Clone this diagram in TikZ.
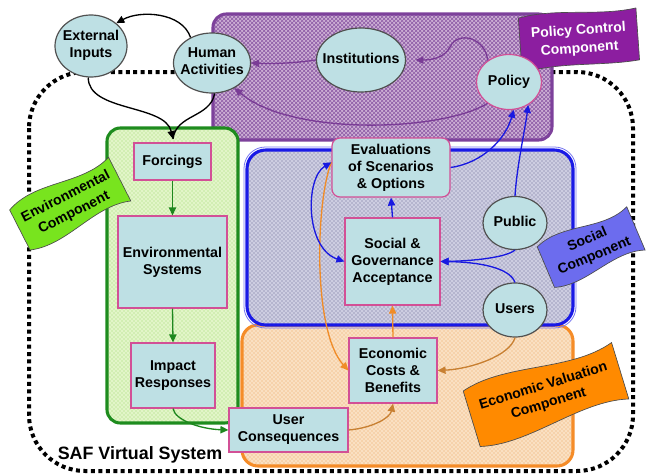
\documentclass[tikz,border=0pt]{standalone}
\usepackage{fontspec}
\setmainfont{Liberation Sans}
\usetikzlibrary{arrows.meta,shapes.geometric,patterns}

\definecolor{nodefill}{RGB}{190,224,228}
\definecolor{ellborder}{RGB}{80,80,80}
\definecolor{boxborder}{RGB}{210,80,150}
\definecolor{purpbg}{RGB}{205,175,212}
\definecolor{purpdot}{RGB}{140,90,165}
\definecolor{purpedge}{RGB}{125,65,155}
\definecolor{greenbg}{RGB}{226,245,200}
\definecolor{greendot}{RGB}{160,215,110}
\definecolor{greenedge}{RGB}{30,140,30}
\definecolor{bluebg}{RGB}{205,205,225}
\definecolor{bluedot}{RGB}{105,105,145}
\definecolor{blueedge}{RGB}{25,25,230}
\definecolor{blueouter}{RGB}{120,120,240}
\definecolor{orangebg}{RGB}{250,224,194}
\definecolor{orangedot}{RGB}{236,165,95}
\definecolor{orangeedge}{RGB}{245,140,40}
\definecolor{purparrow}{RGB}{122,60,150}
\definecolor{greenarrow}{RGB}{30,135,30}
\definecolor{bluearrow}{RGB}{25,25,225}
\definecolor{orangearrow}{RGB}{240,140,40}
\definecolor{brownarrow}{RGB}{200,128,50}
\definecolor{envflag}{RGB}{120,228,30}
\definecolor{socflag}{RGB}{108,108,238}
\definecolor{ecoflag}{RGB}{255,138,0}
\definecolor{polflag}{RGB}{140,30,160}

\newcommand\ctext[1]{\makebox[0pt]{\begin{tabular}{@{}c@{}}#1\end{tabular}}}

\tikzset{
  ell/.style={ellipse, draw=ellborder, fill=nodefill, line width=0.9pt, inner sep=0pt},
  boxnode/.style={rectangle, draw=boxborder, fill=nodefill, line width=0.9pt, inner sep=0pt, align=center},
  arr/.style={line width=1pt, -{Triangle[length=6pt,width=5.5pt]}},
  regionedge/.style={line width=2.3pt, rounded corners=10pt},
  flagshape/.style={draw=black!70, line width=0.5pt},
  flagtxt/.style={align=center, inner sep=0pt, font=\fontsize{10.5}{13.6}\selectfont\bfseries},
}

\begin{document}
\begin{tikzpicture}[x=0.75pt,y=-0.75pt, font=\fontsize{10.7}{12.8}\selectfont\bfseries]
\useasboundingbox (0,0) rectangle (646,475);

% outer virtual system boundary
\draw[line width=3pt, dash pattern=on 3pt off 2.6pt, rounded corners=42pt]
  (29,72) rectangle (633,471);

% component regions
\path[fill=purpbg, rounded corners=11pt] (213,14) rectangle (552,140);
\path[pattern=crosshatch, pattern color=purpdot, rounded corners=11pt] (213,14) rectangle (552,140);
\draw[regionedge, draw=purpedge] (213,14) rectangle (552,140);

\path[fill=greenbg, rounded corners=10pt] (107,128) rectangle (238,423);
\path[pattern=crosshatch dots, pattern color=greendot, rounded corners=10pt] (107,128) rectangle (238,423);
\draw[regionedge, draw=greenedge] (107,128) rectangle (238,423);

\path[fill=orangebg, rounded corners=12pt] (242,325) rectangle (573,466);
\path[pattern=crosshatch dots, pattern color=orangedot, rounded corners=12pt] (242,325) rectangle (573,466);
\draw[regionedge, draw=orangeedge, rounded corners=12pt] (242,325) rectangle (573,466);

\path[fill=bluebg, rounded corners=14pt] (247,150) rectangle (573,325);
\path[pattern=crosshatch dots, pattern color=bluedot, rounded corners=14pt] (247,150) rectangle (573,325);
\draw[line width=0.6pt, draw=blueouter, rounded corners=16pt] (244,147) rectangle (576,328);
\draw[regionedge, draw=blueedge, rounded corners=14pt] (247,150) rectangle (573,325);

% flags
\begin{scope}[shift={(579,40)}, rotate=4]
\path[flagshape, fill=polflag] (-59,-26) .. controls (-20,-34) and (20,-22) .. (59,-28)
  -- (59,24) .. controls (20,28) and (-20,20) .. (-59,29) -- cycle;
\end{scope}
\node[flagtxt, text=white, rotate=4] (polflagtxt) at (579,40) {Policy Control\\Component};

\begin{scope}[shift={(70,205)}, rotate=27]
\path[flagshape, fill=envflag] (-56,-23) .. controls (-20,-38) and (20,-12) .. (56,-25)
  -- (56,24) .. controls (20,11) and (-20,35) .. (-56,22) -- cycle;
\end{scope}
\node[flagtxt, rotate=27] (envflagtxt) at (70,205) {Environmental\\Component};

\begin{scope}[shift={(591,248)}, rotate=23]
\path[flagshape, fill=socflag] (-49,-22) .. controls (-18,-35) and (18,-11) .. (49,-24)
  -- (49,23) .. controls (18,11) and (-18,33) .. (-49,22) -- cycle;
\end{scope}
\node[flagtxt, rotate=23] (socflagtxt) at (591,248) {Social\\Component};

\begin{scope}[shift={(546,395)}, rotate=17]
\path[flagshape, fill=ecoflag] (-78,-28) .. controls (-30,-43) and (30,-15) .. (78,-31)
  -- (78,28) .. controls (30,15) and (-30,43) .. (-78,30) -- cycle;
\end{scope}
\node[flagtxt, rotate=17] (ecoflagtxt) at (546,395) {Economic Valuation\\Component};

% nodes
\node[ell, minimum width=54pt, minimum height=46.5pt] (ei) at (91,46) {\ctext{External\\Inputs}};
\node[ell, minimum width=57.75pt, minimum height=45pt] (ha) at (212,63) {\ctext{Human\\Activities}};
\node[ell, minimum width=66.75pt, minimum height=48pt] (inst) at (361,60) {\ctext{Institutions}};
\node[ell, draw=boxborder, minimum width=48.75pt, minimum height=41.25pt] (pol) at (509,82) {\ctext{Policy}};
\node[ell, minimum width=48pt, minimum height=39.75pt] (pub) at (515,223) {\ctext{Public}};
\node[ell, minimum width=48pt, minimum height=40.5pt] (users) at (515,310) {\ctext{Users}};

\node[boxnode, rounded corners=6pt, minimum width=88.5pt, minimum height=44.25pt] (eval) at (391,167.5) {Evaluations\\of Scenarios\\\& Options};
\node[boxnode, minimum width=71.25pt, minimum height=65.25pt] (sg) at (392.5,261.5) {Social \&\\Governance\\Acceptance};
\node[boxnode, minimum width=66pt, minimum height=48.75pt] (ec) at (393,370.5) {Economic\\Costs \&\\Benefits};
\node[boxnode, minimum width=89.25pt, minimum height=33pt] (uc) at (288.5,430) {User\\Consequences};
\node[boxnode, minimum width=57.75pt, minimum height=27.75pt] (forc) at (172.5,161.5) {Forcings};
\node[boxnode, minimum width=81.75pt, minimum height=69pt] (es) at (172.5,262) {Environmental\\Systems};
\node[boxnode, minimum width=63pt, minimum height=48.75pt] (ir) at (173,375.5) {Impact\\Responses};

\coordinate (fin) at (173,139);

% black connectors
\draw[arr, black] (ha.130) .. controls (182,12) and (140,10) .. (ei.42);
\draw[arr, black] (ei.-95) .. controls (88,112) and (165,104) .. (fin);
\draw[line width=1pt, black] (ha.-85) .. controls (210,118) and (176,114) .. (fin);

% purple connectors
\draw[arr, purparrow] (inst.180) .. controls (295,63) and (275,64) .. (ha.0);
\draw[arr, purparrow, shorten >=7pt] (pol.135) .. controls (486,38) and (458,30) .. (450,47)
  .. controls (444,58) and (432,60) .. (inst.0);
\draw[arr, purparrow] (pol.-135) .. controls (440,132) and (290,136) .. (ha.-48);

% green connectors
\draw[arr, greenarrow] (forc.south) -- (es.north);
\draw[arr, greenarrow] (es.south) -- (ir.north);
\draw[arr, greenarrow] (ir.south) .. controls (175,420) and (200,429) .. (uc.west);

% orange connectors
\draw[arr, orangearrow] (eval.175) .. controls (316,200) and (312,330) .. (ec.west);
\draw[arr, orangearrow] (ec.north) -- (sg.south);
\draw[arr, brownarrow] (uc.east) .. controls (372,428) and (390,418) .. (ec.south);
\draw[arr, brownarrow] (users.south) .. controls (510,356) and (470,369) .. (ec.east);

% blue connectors
\draw[arr, bluearrow] (sg.north) -- (eval.south);
\draw[arr, bluearrow] (eval.east) .. controls (482,163) and (505,140) .. (pol.-80);
\draw[arr, bluearrow] (pub.north) .. controls (517,165) and (525,130) .. (pol.-50);
\draw[arr, bluearrow] (pub.south) .. controls (505,258) and (470,261) .. (sg.east);
\draw[arr, bluearrow] (users.north) .. controls (510,268) and (480,262) .. (sg.east);
\draw[line width=1pt, bluearrow, {Triangle[length=6pt,width=5.5pt]}-{Triangle[length=6pt,width=5.5pt]}]
  (sg.west) .. controls (305,248) and (305,178) .. (eval.175);

% title
\node[font=\fontsize{13.4}{16}\selectfont\bfseries, inner sep=0pt] (saf) at (140,455) {SAF Virtual System};
\end{tikzpicture}
\end{document}
